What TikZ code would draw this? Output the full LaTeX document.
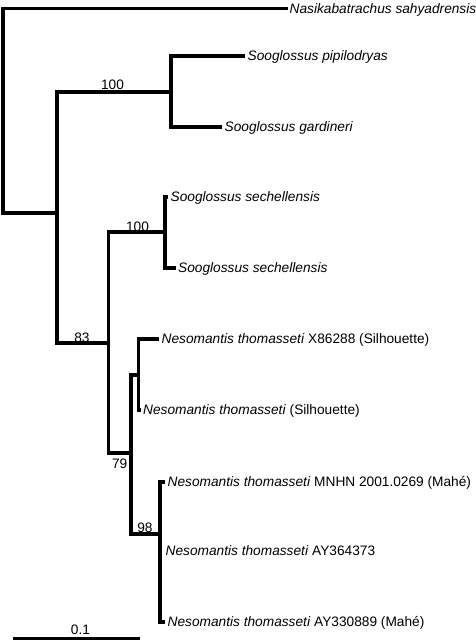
\documentclass[tikz,border=0pt]{standalone}
\usepackage{fontspec}
\setmainfont{Liberation Sans}
\begin{document}
\begin{tikzpicture}[x=1pt,y=-1pt,
  branch/.style={line width=3.2pt,line join=miter,line cap=rect},
  taxon/.style={anchor=base west,inner sep=0pt,font=\fontsize{13.7}{16}\selectfont},
  boot/.style={anchor=base,inner sep=0pt,font=\fontsize{13.7}{16}\selectfont}]
\useasboundingbox (0,0) rectangle (476,640);
% internal nodes
\coordinate (R) at (3,111);
\coordinate (A) at (57,213);
\coordinate (B) at (171,92);
\coordinate (C) at (108.5,343);
\coordinate (D) at (165,232);
\coordinate (E) at (131,453);
\coordinate (F) at (138.5,375);
\coordinate (G) at (160,534);
% tips
\coordinate (t1) at (286,8.5);
\coordinate (t2) at (243,56);
\coordinate (t3) at (220,127);
\coordinate (t4) at (166,197);
\coordinate (t5) at (174,268);
\coordinate (t6) at (157,339);
\coordinate (t7) at (139.5,410);
\coordinate (t8) at (163,482);
\coordinate (t9) at (160,551);
\coordinate (t10) at (163,622);
% branches
\draw[branch] (t1) -| (R) |- (A);
\draw[branch] (B) -| (A) |- (C);
\draw[branch] (t2) -| (B) |- (t3);
\draw[branch] (D) -| (C) |- (E);
\draw[branch] (t4) -| (D) |- (t5);
\draw[branch] (F) -| (E) |- (G);
\draw[branch] (t6) -| (F) |- (t7);
\draw[branch] (t8) -| (G) |- (t10);
% taxon labels
\node[taxon] (l1) at (289.5,13) {\itshape Nasikabatrachus sahyadrensis};
\node[taxon] (l2) at (247.5,60.5) {\itshape Sooglossus pipilodryas};
\node[taxon] (l3) at (224.5,131.5) {\itshape Sooglossus gardineri};
\node[taxon] (l4) at (170.5,201.5) {\itshape Sooglossus sechellensis};
\node[taxon] (l5) at (178,272.5) {\itshape Sooglossus sechellensis};
\node[taxon] (l6) at (161.5,343.5) {\itshape Nesomantis thomasseti\/\upshape\ X86288 (Silhouette)};
\node[taxon] (l7) at (143,414.5) {\itshape Nesomantis thomasseti\/\upshape\ (Silhouette)};
\node[taxon] (l8) at (167.5,486.5) {\itshape Nesomantis thomasseti\/\upshape\ MNHN 2001.0269 (Mahé)};
\node[taxon] (l9) at (165.5,555.5) {\itshape Nesomantis thomasseti\/\upshape\ AY364373};
\node[taxon] (l10) at (167.5,626.5) {\itshape Nesomantis thomasseti\/\upshape\ AY330889 (Mahé)};
% bootstrap values
\node[boot] (b1) at (112.5,89) {100};
\node[boot] (b2) at (137.5,231) {100};
\node[boot] (b3) at (82,342) {83};
\node[boot] (b4) at (119.7,468) {79};
\node[boot] (b5) at (145,532) {98};
% scale bar
\coordinate (s1) at (13,638.5);
\coordinate (s2) at (140,638.5);
\draw[line width=3.2pt] (s1) -- (s2);
\node[boot] (sl) at (80.5,634.5) {0.1};
\end{tikzpicture}
\end{document}
